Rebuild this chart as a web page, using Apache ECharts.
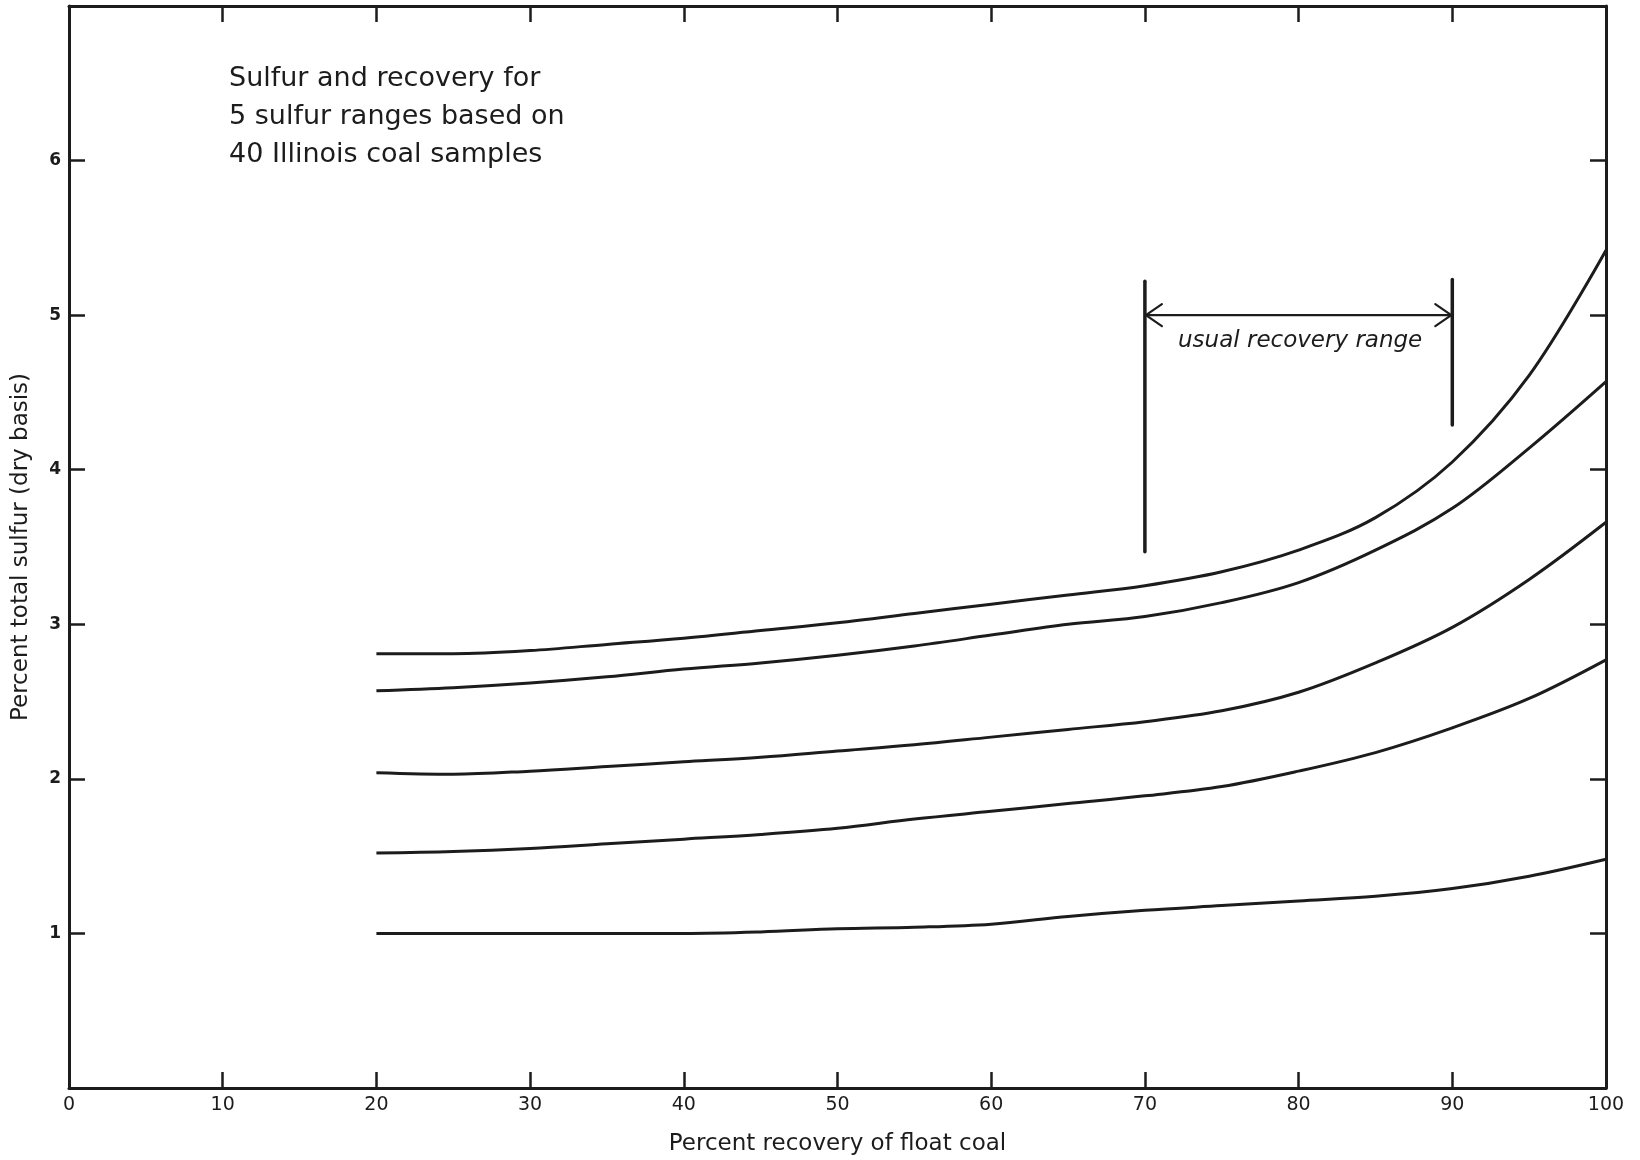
<!DOCTYPE html>
<html>
<head>
<meta charset="utf-8">
<script src="https://cdn.jsdelivr.net/npm/echarts@6/dist/echarts.min.js"></script>
<style>
  html, body { margin: 0; padding: 0; background: #ffffff; }
  #chart { width: 1640px; height: 1160px; }
</style>
</head>
<body>
<div id="chart"></div>
<script>
// ---- data ----
const recovery = [20, 25, 30, 35, 40, 45, 50, 55, 60, 65, 70, 75, 80, 85, 90, 95, 100];
const sulfurA = [2.81, 2.81, 2.83, 2.87, 2.91, 2.96, 3.01, 3.07, 3.13, 3.19, 3.25, 3.34, 3.48, 3.69, 4.05, 4.61, 5.42];
const sulfurB = [2.57, 2.59, 2.62, 2.66, 2.71, 2.75, 2.80, 2.86, 2.93, 3.00, 3.05, 3.14, 3.27, 3.48, 3.75, 4.14, 4.57];
const sulfurC = [2.04, 2.03, 2.05, 2.08, 2.11, 2.14, 2.18, 2.22, 2.27, 2.32, 2.37, 2.44, 2.56, 2.75, 2.98, 3.29, 3.66];
const sulfurD = [1.52, 1.53, 1.55, 1.58, 1.61, 1.64, 1.68, 1.74, 1.79, 1.84, 1.89, 1.95, 2.05, 2.17, 2.33, 2.52, 2.77];
const sulfurE = [1.00, 1.00, 1.00, 1.00, 1.00, 1.01, 1.03, 1.04, 1.06, 1.11, 1.15, 1.18, 1.21, 1.24, 1.29, 1.37, 1.48];

const xTickLabels = ['0', '10', '20', '30', '40', '50', '60', '70', '80', '90', '100'];
const yTickLabels = ['', '1', '2', '3', '4', '5', '6', ''];

const rangeBounds = [70, 90];          // usual recovery range (x)
const rangeArrowY = 5.0;               // arrow height (y)
const leftBarY = [3.47, 5.22];
const rightBarY = [4.29, 5.23];
const rangeLabel = 'usual recovery range';
const rangeLabelPos = [80.1, 4.83];

const noteLines = ['Sulfur and recovery for', '5 sulfur ranges based on', '40 Illinois coal samples'];
const xName = 'Percent recovery of float coal';
const yName = 'Percent total sulfur (dry basis)';

// ---- chart ----
const INK = '#1c1c1c';
const FONT = '"DejaVu Sans", "Liberation Sans", sans-serif';

function pairs(ys) { return recovery.map((x, i) => [x, ys[i]]); }

const chart = echarts.init(document.getElementById('chart'), null, { renderer: 'canvas' });

const lineSeries = [sulfurA, sulfurB, sulfurC, sulfurD, sulfurE].map((ys, i) => ({
  type: 'line',
  name: 'range' + (i + 1),
  data: pairs(ys),
  smooth: 0.35,
  showSymbol: false,
  symbol: 'none',
  lineStyle: { color: INK, width: 3 },
  z: 3,
  silent: true
}));

const bracketSeries = {
  type: 'custom',
  data: [[rangeBounds[0], rangeBounds[1], rangeArrowY]],
  silent: true,
  z: 4,
  renderItem: function (params, api) {
    const lb = api.coord([rangeBounds[0], leftBarY[0]]);
    const lt = api.coord([rangeBounds[0], leftBarY[1]]);
    const rb = api.coord([rangeBounds[1], rightBarY[0]]);
    const rt = api.coord([rangeBounds[1], rightBarY[1]]);
    const a1 = api.coord([rangeBounds[0], rangeArrowY]);
    const a2 = api.coord([rangeBounds[1], rangeArrowY]);
    const tp = api.coord(rangeLabelPos);
    const st = { stroke: INK, lineWidth: 3.5, fill: null, lineCap: 'round', lineJoin: 'round' };
    const st2 = { stroke: INK, lineWidth: 2.2, fill: null, lineCap: 'round', lineJoin: 'round' };
    const hw = 17, hh = 11;
    return {
      type: 'group',
      children: [
        { type: 'line', shape: { x1: lb[0], y1: lb[1], x2: lt[0], y2: lt[1] }, style: st },
        { type: 'line', shape: { x1: rb[0], y1: rb[1], x2: rt[0], y2: rt[1] }, style: st },
        { type: 'line', shape: { x1: a1[0], y1: a1[1], x2: a2[0], y2: a2[1] }, style: st2 },
        { type: 'polyline', shape: { points: [[a1[0] + hw, a1[1] - hh], [a1[0] + 1, a1[1]], [a1[0] + hw, a1[1] + hh]] }, style: st2 },
        { type: 'polyline', shape: { points: [[a2[0] - hw, a2[1] - hh], [a2[0] - 1, a2[1]], [a2[0] - hw, a2[1] + hh]] }, style: st2 },
        { type: 'text', x: tp[0], y: tp[1],
          style: { text: rangeLabel, fill: INK, font: 'italic 23px ' + FONT, align: 'center', verticalAlign: 'middle' } }
      ]
    };
  }
};

const axisLineStyle = { show: true, onZero: false, lineStyle: { color: INK, width: 3 } };
const tickStyle = { show: true, inside: true, length: 16, lineStyle: { color: INK, width: 2.5 } };

const option = {
  backgroundColor: '#ffffff',
  animation: false,
  title: {
    text: noteLines.join('\n'),
    left: 224,
    top: 55,
    textStyle: { color: INK, fontFamily: FONT, fontSize: 27, fontWeight: 'normal', lineHeight: 38 }
  },
  grid: { left: 69, right: 34, top: 6, bottom: 72, containLabel: false, outerBoundsMode: 'none' },
  xAxis: [
    {
      type: 'value', min: 0, max: 100, interval: 10, position: 'bottom',
      name: xName, nameLocation: 'middle', nameGap: 45,
      nameTextStyle: { color: INK, fontFamily: FONT, fontSize: 23 },
      axisLine: axisLineStyle,
      axisTick: tickStyle,
      axisLabel: { color: INK, fontFamily: FONT, fontSize: 19, margin: 8,
                   formatter: function (v) { return xTickLabels[Math.round(v / 10)]; } },
      splitLine: { show: false }
    },
    {
      type: 'value', min: 0, max: 100, interval: 10, position: 'top',
      axisLine: axisLineStyle,
      axisTick: tickStyle,
      axisLabel: { show: false },
      splitLine: { show: false }
    }
  ],
  yAxis: [
    {
      type: 'value', min: 0, max: 7, interval: 1, position: 'left',
      name: yName, nameLocation: 'middle', nameGap: 36, nameRotate: 90,
      nameTextStyle: { color: INK, fontFamily: FONT, fontSize: 23 },
      axisLine: axisLineStyle,
      axisTick: tickStyle,
      axisLabel: { color: INK, fontFamily: FONT, fontSize: 17, fontWeight: 'bold', margin: 8,
                   formatter: function (v) { return yTickLabels[Math.round(v)]; } },
      splitLine: { show: false }
    },
    {
      type: 'value', min: 0, max: 7, interval: 1, position: 'right',
      axisLine: axisLineStyle,
      axisTick: tickStyle,
      axisLabel: { show: false },
      splitLine: { show: false }
    }
  ],
  series: lineSeries.concat([bracketSeries])
};

chart.setOption(option);
</script>
</body>
</html>
